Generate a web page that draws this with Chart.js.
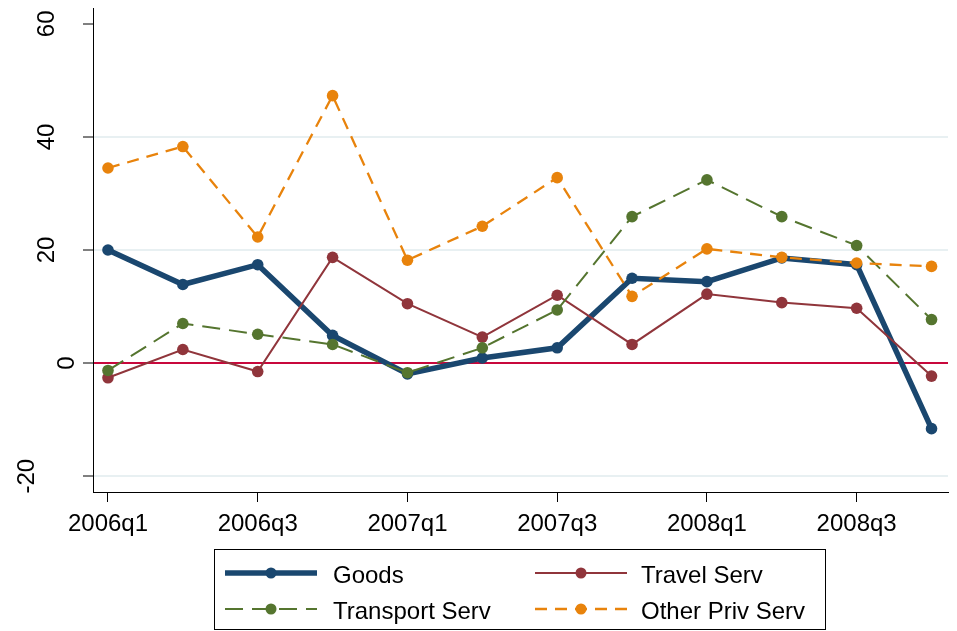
<!DOCTYPE html>
<html>
<head>
<meta charset="utf-8">
<script src="https://cdn.jsdelivr.net/npm/chart.js@4/dist/chart.umd.min.js"></script>
<style>
  html, body { margin: 0; padding: 0; background: #fff; }
  canvas { display: block; }
</style>
</head>
<body>
<canvas id="chart" width="957" height="631"></canvas>
<script>
// Quarters on the x axis and the four series
const quarters = ['2006q1', '2006q2', '2006q3', '2006q4', '2007q1', '2007q2',
                  '2007q3', '2007q4', '2008q1', '2008q2', '2008q3', '2008q4'];
const xTickIdx = [0, 2, 4, 6, 8, 10];
const yTicks = [-20, 0, 20, 40, 60];

const goods     = [20.0, 13.9, 17.4, 4.9, -1.9, 0.9, 2.7, 15.0, 14.4, 18.6, 17.4, -11.6];
const travel    = [-2.6, 2.4, -1.5, 18.7, 10.5, 4.6, 12.0, 3.3, 12.2, 10.7, 9.7, -2.3];
const transport = [-1.3, 7.0, 5.1, 3.3, -1.7, 2.7, 9.4, 25.9, 32.4, 25.9, 20.8, 7.7];
const otherPriv = [34.5, 38.3, 22.3, 47.3, 18.2, 24.2, 32.8, 11.8, 20.2, 18.7, 17.7, 17.1];

const FONT = '"Liberation Sans", Arial, sans-serif';

function pts(arr) {
    return arr.map(function(v, i) { return { x: i, y: v }; });
}

function series(label, data, color, width, dash, order) {
    return {
        label: label,
        data: pts(data),
        borderColor: color,
        backgroundColor: color,
        borderWidth: width,
        borderDash: dash,
        pointRadius: 5.8,
        pointBorderWidth: 0,
        pointBackgroundColor: color,
        tension: 0,
        order: order
    };
}

// rotated y tick labels, the way Stata places them
const yLabelPlugin = {
    id: 'yLabels',
    afterDraw: function(chart) {
        const ctx = chart.ctx;
        const y = chart.scales.y;
        ctx.save();
        ctx.fillStyle = '#000';
        ctx.font = '24px ' + FONT;
        ctx.textAlign = 'center';
        ctx.textBaseline = 'alphabetic';
        yTicks.forEach(function(v) {
            const s = String(v);
            const xr = 74 - 20 * (s.length - 1);
            ctx.save();
            ctx.translate(xr, y.getPixelForValue(v));
            ctx.rotate(-Math.PI / 2);
            ctx.fillText(s, 0, 0);
            ctx.restore();
        });
        ctx.restore();
    }
};

// boxed two-column legend under the plot
const legendPlugin = {
    id: 'boxLegend',
    afterDraw: function(chart) {
        const ctx = chart.ctx;
        const cols = [{ x0: 225, x1: 317, tx: 333 }, { x0: 535, x1: 627, tx: 641 }];
        const rows = [573, 609];
        ctx.save();
        ctx.strokeStyle = '#000';
        ctx.lineWidth = 1;
        ctx.strokeRect(214.5, 549.5, 611, 80);
        chart.data.datasets.forEach(function(ds, i) {
            const c = cols[i % 2];
            const ry = rows[Math.floor(i / 2)];
            ctx.strokeStyle = ds.borderColor;
            ctx.lineWidth = ds.borderWidth;
            ctx.setLineDash(ds.borderDash || []);
            ctx.beginPath();
            ctx.moveTo(c.x0, ry);
            ctx.lineTo(c.x1, ry);
            ctx.stroke();
            ctx.setLineDash([]);
            ctx.fillStyle = ds.borderColor;
            ctx.beginPath();
            ctx.arc((c.x0 + c.x1) / 2, ry, 5.5, 0, Math.PI * 2);
            ctx.fill();
            ctx.fillStyle = '#000';
            ctx.font = '24px ' + FONT;
            ctx.textAlign = 'left';
            ctx.textBaseline = 'alphabetic';
            ctx.fillText(ds.label, c.tx, ry + 10);
        });
        ctx.restore();
    }
};

new Chart(document.getElementById('chart').getContext('2d'), {
    type: 'line',
    data: {
        datasets: [
            series('Goods', goods, '#1a476f', 5.5, [], 4),
            series('Travel Serv', travel, '#90353b', 2, [], 3),
            series('Transport Serv', transport, '#55752f', 2, [18, 9], 2),
            series('Other Priv Serv', otherPriv, '#e8830c', 2.3, [12, 8], 1)
        ]
    },
    options: {
        responsive: false,
        animation: false,
        devicePixelRatio: 1,
        layout: { padding: { top: 8, right: 9, bottom: 89, left: 0 } },
        plugins: {
            legend: { display: false },
            tooltip: { enabled: false }
        },
        scales: {
            x: {
                type: 'linear',
                min: -0.2,
                max: 11.22,
                afterBuildTicks: function(scale) {
                    scale.ticks = xTickIdx.map(function(v) { return { value: v }; });
                },
                afterFit: function(scale) { scale.height = 50; },
                ticks: {
                    autoSkip: false,
                    maxRotation: 0,
                    padding: 8,
                    color: '#000',
                    font: { family: FONT, size: 24 },
                    callback: function(v) { return quarters[v]; }
                },
                grid: {
                    drawOnChartArea: false,
                    tickLength: 10,
                    tickColor: '#000',
                    tickWidth: 1
                },
                border: { color: '#000', width: 1 }
            },
            y: {
                min: -22.8,
                max: 62.8,
                afterBuildTicks: function(scale) {
                    scale.ticks = yTicks.map(function(v) { return { value: v }; });
                },
                afterFit: function(scale) { scale.width = 93; },
                ticks: { display: false },
                grid: {
                    color: function(c) {
                        const v = c.tick ? c.tick.value : null;
                        if (v === 0) return '#c8083c';
                        if (v === 60) return 'rgba(0,0,0,0)';
                        return '#e8f0f2';
                    },
                    lineWidth: 2,
                    tickLength: 10,
                    tickColor: '#000',
                    tickWidth: 1
                },
                border: { color: '#000', width: 1 }
            }
        }
    },
    plugins: [yLabelPlugin, legendPlugin]
});
</script>
</body>
</html>
